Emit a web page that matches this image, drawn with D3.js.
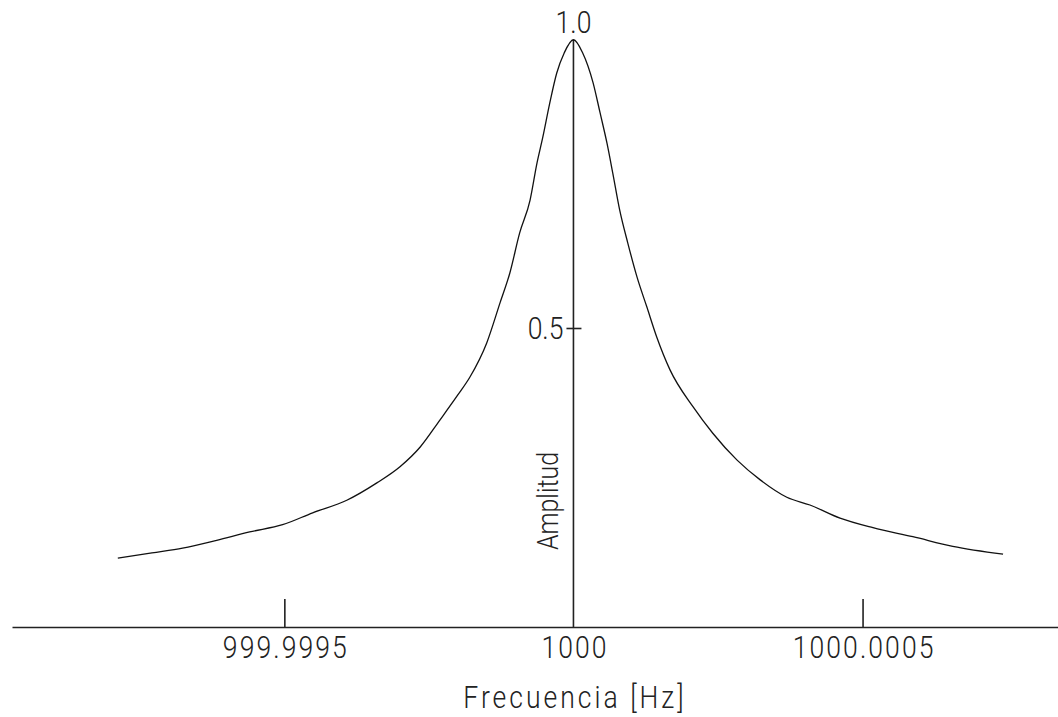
<!DOCTYPE html>
<html>
<head>
<meta charset="utf-8">
<script src="https://cdn.jsdelivr.net/npm/d3@7"></script>
<style>
    body { margin: 0; background: #fff; }
    svg { display: block; }
    .lbl { font-family: Roboto, "DejaVu Sans", sans-serif; font-weight: 300; fill: #222; }
</style>
</head>
<body>
<div id="resonancia"></div>
<script>
// offsets from 1000 Hz, in micro-hertz
let offsets = [-788, -729, -676, -617, -560, -503, -451, -392, -340, -300, -265, -231, -200, -179,
    -150, -127, -110, -93, -75, -63, -53, -41, -29, -16, 0,
    16, 34, 46, 58, 68, 80, 94, 110, 127, 144, 167, 207, 241, 283, 323, 369, 409, 461, 518, 587, 656, 743]
let amplitudes = [0.115, 0.124, 0.132, 0.145, 0.159, 0.171, 0.191, 0.212, 0.241, 0.268, 0.301, 0.346, 0.388, 0.418,
    0.475, 0.542, 0.592, 0.659, 0.714, 0.776, 0.819, 0.876, 0.926, 0.960, 0.982,
    0.960, 0.910, 0.860, 0.809, 0.759, 0.697, 0.642, 0.585, 0.535, 0.485, 0.430, 0.368, 0.324, 0.279, 0.246, 0.217, 0.204, 0.182, 0.166, 0.151, 0.135, 0.122]

let xTickValues = [-500, 0, 500]
let xTickLabels = ["999.9995", "1000", "1000.0005"]
let yTickValues = [0.5]
let yTickLabels = ["0.5"]
let yTopLabel = "1.0"

let width = 1058, height = 717
let squeeze = 0.83

let svg = d3.select("#resonancia")
    .append("svg")
        .attr("width", width)
        .attr("height", height)

let xScale = d3.scaleLinear().domain([-971, 838]).range([12, 1058])
let yScale = d3.scaleLinear().domain([0, 1]).range([627, 29])

// x axis, ticks pointing up
let xAxis = svg.append("g")
    .attr("transform", "translate(0," + yScale(0) + ")")
    .call(d3.axisBottom(xScale)
        .tickValues(xTickValues)
        .tickFormat((d, i) => xTickLabels[i])
        .tickSize(-28)
        .tickSizeOuter(0)
        .tickPadding(8))
xAxis.select(".domain").attr("stroke", "#222").attr("stroke-width", 1.6)
xAxis.selectAll(".tick line").attr("stroke", "#222").attr("stroke-width", 1.6)
    .filter(d => d === 0).remove()
xAxis.selectAll(".tick text")
    .attr("class", "lbl")
    .style("font-size", "32px")
    .style("letter-spacing", "2.5px")
    .attr("dx", 1.25)
    .attr("transform", "scale(" + squeeze + ",1)")

// y axis at 1000 Hz
let x0 = xScale(0)
let yAxis = svg.append("g")
    .attr("transform", "translate(" + x0 + ",0)")
    .call(d3.axisLeft(yScale)
        .tickValues(yTickValues)
        .tickFormat((d, i) => yTickLabels[i])
        .tickSize(7)
        .tickSizeOuter(0)
        .tickPadding(3))
yAxis.select(".domain").remove()
yAxis.selectAll(".tick line").attr("x1", 8).attr("stroke", "#222").attr("stroke-width", 1.6)
yAxis.selectAll(".tick text")
    .attr("class", "lbl")
    .style("font-size", "32px")
    .attr("transform", "translate(-10,0) scale(" + squeeze + ",1) translate(10,0)")

svg.append("line")
    .attr("x1", x0).attr("x2", x0)
    .attr("y1", yScale(0)).attr("y2", yScale(d3.max(amplitudes)))
    .attr("stroke", "#222").attr("stroke-width", 1.6)

svg.append("text")
    .attr("class", "lbl")
    .attr("text-anchor", "middle")
    .attr("transform", "translate(" + x0 + "," + (yScale(1) + 4) + ") scale(" + squeeze + ",1)")
    .style("font-size", "32px")
    .text(yTopLabel)

// resonance curve
let points = offsets.map((d, i) => [d, amplitudes[i]])
let line = d3.line()
    .x(d => xScale(d[0]))
    .y(d => yScale(d[1]))
    .curve(d3.curveMonotoneX)

svg.append("path")
    .datum(points)
    .attr("d", line)
    .style("fill", "none")
    .style("stroke", "#111")
    .style("stroke-width", "1.3")

// axis titles
svg.append("text")
    .attr("class", "lbl")
    .attr("text-anchor", "middle")
    .attr("transform", "translate(" + x0 + ",708) scale(" + squeeze + ",1)")
    .style("font-size", "32px")
    .style("letter-spacing", "3.6px")
    .attr("dx", 1.8)
    .text("Frecuencia [Hz]")

svg.append("text")
    .attr("class", "lbl")
    .attr("text-anchor", "middle")
    .attr("transform", "translate(558,501) rotate(-90) scale(" + squeeze + ",1)")
    .style("font-size", "30px")
    .text("Amplitud")
</script>
</body>
</html>
